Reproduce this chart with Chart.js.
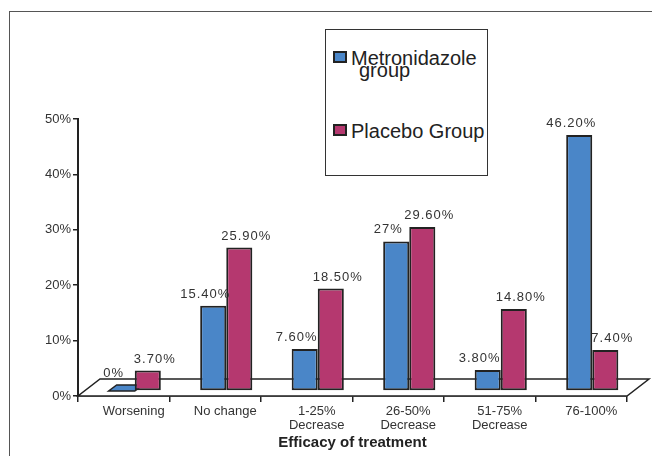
<!DOCTYPE html>
<html>
<head>
<meta charset="utf-8">
<script src="https://cdn.jsdelivr.net/npm/chart.js@4"></script>
<style>
  body { margin: 0; background: #fff; font-family: "Liberation Sans", Arial, sans-serif; }
  #wrap { position: relative; width: 652px; height: 456px; overflow: hidden; }
  #frame { position: absolute; left: 9px; top: 11px; width: 800px; height: 600px; border: 1px solid #555; }
  canvas { position: absolute; left: 0; top: 0; }
  #legend { position: absolute; left: 325px; top: 29px; width: 161px; height: 145px; border: 1px solid #333; background: #fff; color: #222; }
  .sw { position: absolute; width: 10px; height: 8px; border: 2px solid #222; }
  .lt { position: absolute; font-size: 20px; line-height: 20px; white-space: nowrap; }
</style>
</head>
<body>
<div id="wrap">
  <div id="frame"></div>
  <canvas id="efficacyChart" width="652" height="456"></canvas>
  <div id="legend"></div>
</div>
<script>
// Data dari grafik
const categories = [['Worsening'], ['No change'], ['1-25%', 'Decrease'], ['26-50%', 'Decrease'], ['51-75%', 'Decrease'], ['76-100%']];
const metronidazole = [0, 15.4, 7.6, 27, 3.8, 46.2];
const placebo = [3.7, 25.9, 18.5, 29.6, 14.8, 7.4];
const metroLabels = ['0%', '15.40%', '7.60%', '27%', '3.80%', '46.20%'];
const placeboLabels = ['3.70%', '25.90%', '18.50%', '29.60%', '14.80%', '7.40%'];
const seriesNames = ['Metronidazole group', 'Placebo Group'];

const blue = '#4a86c8';
const pink = '#b5386f';
const dark = '#222';
const depthX = 22, depthY = -17;   // kedalaman lantai 3D
const barDX = 11, barDY = -5;      // geser batang ke tengah lantai

// Legenda manual (HTML)
const legend = document.getElementById('legend');
legend.innerHTML =
  '<div class="sw" style="left:7px;top:21px;background:' + blue + '"></div>' +
  '<div class="lt" style="left:25px;top:18px">Metronidazole</div>' +
  '<div class="lt" style="left:33px;top:30px">group</div>' +
  '<div class="sw" style="left:7px;top:94px;background:' + pink + '"></div>' +
  '<div class="lt" style="left:25px;top:91px">Placebo Group</div>';

// Plugin lantai 3D, geser batang, dan label nilai
const floorPlugin = {
  id: 'floor3d',
  beforeDatasetsDraw(chart) {
    const ctx = chart.ctx;
    const x = chart.scales.x, y = chart.scales.y;
    const y0 = y.getPixelForValue(0);
    ctx.save();
    ctx.beginPath();
    ctx.moveTo(x.left, y0);
    ctx.lineTo(x.right, y0);
    ctx.lineTo(x.right + depthX, y0 + depthY);
    ctx.lineTo(x.left + depthX, y0 + depthY);
    ctx.closePath();
    ctx.fillStyle = '#fff';
    ctx.fill();
    ctx.strokeStyle = dark;
    ctx.lineWidth = 1.5;
    ctx.stroke();
    ctx.restore();

    ctx.save();
    ctx.translate(barDX, barDY);
    // batang bernilai 0: hanya permukaan atas
    chart.data.datasets.forEach((ds, i) => {
      chart.getDatasetMeta(i).data.forEach((bar, j) => {
        if (ds.data[j] === 0) {
          const l = bar.x - bar.width / 2, r = bar.x + bar.width / 2;
          ctx.beginPath();
          ctx.moveTo(l, bar.base);
          ctx.lineTo(r, bar.base);
          ctx.lineTo(r + 8, bar.base - 6);
          ctx.lineTo(l + 8, bar.base - 6);
          ctx.closePath();
          ctx.fillStyle = ds.backgroundColor;
          ctx.fill();
          ctx.strokeStyle = dark;
          ctx.lineWidth = 1.5;
          ctx.stroke();
        }
      });
    });
  },
  afterDatasetsDraw(chart) {
    const ctx = chart.ctx;
    ctx.font = '13px "Liberation Sans", Arial, sans-serif';
    ctx.letterSpacing = '1px';
    ctx.fillStyle = '#333';
    ctx.textAlign = 'center';
    ctx.textBaseline = 'alphabetic';
    const texts = [metroLabels, placeboLabels];
    const shift = [-8, 7];
    chart.data.datasets.forEach((ds, i) => {
      chart.getDatasetMeta(i).data.forEach((bar, j) => {
        const top = ds.data[j] === 0 ? bar.base - 6 : bar.y;
        ctx.fillText(texts[i][j], bar.x + shift[i], top - 8);
      });
    });
    ctx.restore();
  }
};

const ctx = document.getElementById('efficacyChart').getContext('2d');
const chartInstance = new Chart(ctx, {
  type: 'bar',
  data: {
    labels: categories,
    datasets: [{
      label: seriesNames[0],
      data: metronidazole,
      backgroundColor: blue,
      borderColor: dark,
      borderWidth: 2,
      borderSkipped: false
    }, {
      label: seriesNames[1],
      data: placebo,
      backgroundColor: pink,
      borderColor: dark,
      borderWidth: 2,
      borderSkipped: false
    }]
  },
  options: {
    responsive: false,
    animation: false,
    events: [],
    layout: { padding: { top: 119, right: 25, left: 10, bottom: 0 } },
    datasets: { bar: { categoryPercentage: 0.57, barPercentage: 1.0 } },
    plugins: { legend: { display: false }, tooltip: { enabled: false } },
    scales: {
      x: {
        offset: true,
        afterFit(scale) { scale.height = 60; },
        grid: { display: true, drawOnChartArea: false, offset: true, tickLength: 6, color: dark, lineWidth: 1.5 },
        border: { display: true, color: dark, width: 1.5 },
        ticks: {
          color: '#333',
          font: { family: '"Liberation Sans", Arial, sans-serif', size: 13, lineHeight: 1.1 },
          padding: 2,
          labelOffset: 10,
          maxRotation: 0,
          autoSkip: false
        },
        title: {
          display: true,
          text: 'Efficacy of treatment',
          color: dark,
          font: { family: '"Liberation Sans", Arial, sans-serif', size: 15, weight: 'bold' },
          padding: { top: 0, bottom: 4 }
        }
      },
      y: {
        min: 0,
        max: 50,
        afterFit(scale) { scale.width = 68; },
        grid: { display: true, drawOnChartArea: false, tickLength: 5, color: dark, lineWidth: 1.5 },
        border: { display: true, color: dark, width: 2 },
        ticks: {
          stepSize: 10,
          color: '#333',
          padding: 2,
          font: { family: '"Liberation Sans", Arial, sans-serif', size: 13 },
          callback: v => v + '%'
        }
      }
    }
  },
  plugins: [floorPlugin]
});
</script>
</body>
</html>
